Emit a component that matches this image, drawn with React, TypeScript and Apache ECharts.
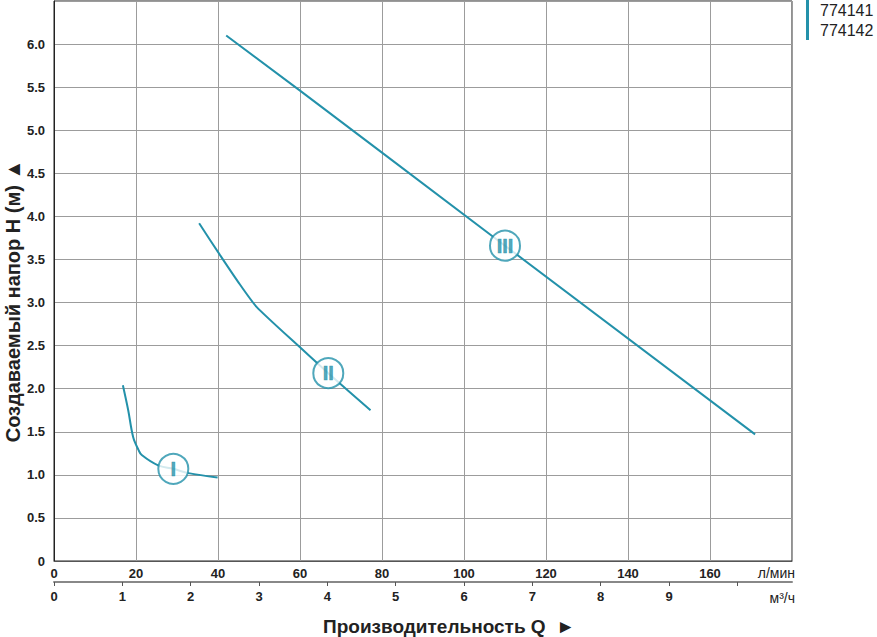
import React, { useEffect, useRef } from "react";
import * as echarts from "echarts";

// Flow (l/min) and head (m)
const curveIQ = [16.8, 18.1, 19.3, 20.6, 21.4, 25.4, 29.1, 32.8, 39.9];
const curveIH = [2.04, 1.75, 1.44, 1.29, 1.23, 1.11, 1.07, 1.02, 0.97];
const curveIIQ = [35.4, 40.5, 44.9, 49.4, 60, 66.9, 77.2];
const curveIIH = [3.92, 3.55, 3.24, 2.95, 2.48, 2.18, 1.75];
const curveIIIQ = [42, 60, 80, 110, 171];
const curveIIIH = [6.1, 5.46, 4.74, 3.66, 1.47];

const markerNames = ["I", "II", "III"];
const markerQ = [29.1, 66.9, 110];
const markerH = [1.07, 2.18, 3.66];

const legendNames = ["774141", "774142"];

const LPM_MAX = 180;
const M3H_MAX = LPM_MAX / (1000 / 60);

const TEAL = "#2391aa";
const FONT = '"Liberation Sans", Arial, Helvetica, sans-serif';

const pairs = (xs: number[], ys: number[]) => xs.map((x, i) => [x, ys[i]]);

export default function App() {
  const ref = useRef<HTMLDivElement>(null);

  useEffect(() => {
    if (!ref.current) return;
    const chart = echarts.init(ref.current, undefined, { renderer: "svg" });

    const lineSeries = (data: number[][], smooth: number) => ({
      type: "line",
      data,
      smooth,
      showSymbol: false,
      symbol: "none",
      lineStyle: { color: TEAL, width: 2 },
      itemStyle: { color: TEAL },
      z: 3,
      silent: true,
    });

    const option: any = {
      animation: false,
      textStyle: { fontFamily: FONT },
      grid: {
        left: 54,
        right: 85,
        top: 1,
        bottom: 76,
        containLabel: false,
        outerBoundsMode: "none",
        show: true,
        borderColor: "#222",
        borderWidth: 1,
        backgroundColor: "transparent",
      },
      legend: {
        data: legendNames,
        orient: "vertical",
        left: 806,
        top: 0,
        padding: 0,
        itemGap: 0,
        itemWidth: 3,
        itemHeight: 20,
        icon: "rect",
        selectedMode: false,
        textStyle: {
          fontFamily: FONT,
          fontSize: 16,
          color: "#222",
          padding: [2, 0, 0, 6],
        },
      },
      xAxis: [
        {
          type: "value",
          min: 0,
          max: LPM_MAX,
          interval: 20,
          position: "bottom",
          axisLine: { show: true, lineStyle: { color: "#555", width: 1 } },
          axisTick: { show: false },
          splitLine: { show: true, lineStyle: { color: "#9c9c9c", width: 1 } },
          axisLabel: {
            margin: 6,
            fontFamily: FONT,
            fontSize: 13,
            fontWeight: "bold",
            color: "#222",
            formatter: (v: number) => (v >= LPM_MAX ? "" : String(v)),
          },
        },
        {
          type: "value",
          min: 0,
          max: M3H_MAX,
          interval: 1,
          position: "bottom",
          offset: 21,
          axisLine: { show: true, lineStyle: { color: "#888", width: 2 } },
          axisTick: { show: true, length: 4, lineStyle: { color: "#555", width: 1 } },
          splitLine: { show: false },
          axisLabel: {
            margin: 8,
            fontFamily: FONT,
            fontSize: 13,
            fontWeight: "bold",
            color: "#222",
            showMaxLabel: false,
            formatter: (v: number) => (v > 9.5 ? "" : String(v)),
          },
        },
      ],
      yAxis: {
        type: "value",
        min: 0,
        max: 6.5,
        interval: 0.5,
        axisLine: { show: true, lineStyle: { color: "#222", width: 1 } },
        axisTick: { show: false },
        splitLine: { show: true, lineStyle: { color: "#9c9c9c", width: 1 } },
        axisLabel: {
          margin: 9,
          fontFamily: FONT,
          fontSize: 13,
          fontWeight: "bold",
          color: "#222",
          formatter: (v: number) => (v === 0 ? "0" : v > 6.25 ? "" : v.toFixed(1)),
        },
      },
      graphic: [
        {
          type: "text",
          x: 13,
          y: 301,
          rotation: Math.PI / 2,
          style: {
            text: "Создаваемый напор H (м) ▲",
            fontFamily: FONT,
            fontSize: 20,
            fontWeight: "bold",
            fill: "#222",
            align: "center",
            verticalAlign: "middle",
          },
        },
        {
          type: "text",
          x: 795,
          y: 573,
          style: {
            text: "л/мин",
            fontFamily: FONT,
            fontSize: 14,
            fill: "#222",
            align: "right",
            verticalAlign: "middle",
          },
        },
        {
          type: "text",
          x: 795,
          y: 598,
          style: {
            text: "м³/ч",
            fontFamily: FONT,
            fontSize: 14,
            fill: "#222",
            align: "right",
            verticalAlign: "middle",
          },
        },
        {
          type: "text",
          x: 449,
          y: 626,
          style: {
            text: "Производительность Q  ►",
            fontFamily: FONT,
            fontSize: 19,
            fontWeight: "bold",
            fill: "#222",
            align: "center",
            verticalAlign: "middle",
          },
        },
      ],
      series: [
        { ...lineSeries(pairs(curveIQ, curveIH), 0.35), name: "I" },
        { ...lineSeries(pairs(curveIIQ, curveIIH), 0.2), name: "II" },
        { ...lineSeries(pairs(curveIIIQ, curveIIIH), 0), name: "III" },
        {
          type: "scatter",
          name: "markers",
          symbol: "circle",
          symbolSize: 30,
          z: 5,
          silent: true,
          itemStyle: { color: "#fff", borderColor: TEAL, borderWidth: 2 },
          label: {
            show: true,
            position: "inside",
            formatter: (p: any) => p.name,
            color: TEAL,
            fontFamily: FONT,
            fontSize: 20,
            fontWeight: "bold",
            textBorderColor: TEAL,
            textBorderWidth: 0.6,
          },
          data: markerNames.map((n, i) => ({ name: n, value: [markerQ[i], markerH[i]] })),
        },
        ...legendNames.map((n) => ({
          type: "line",
          name: n,
          data: [],
          itemStyle: { color: TEAL },
          lineStyle: { color: TEAL },
        })),
      ],
    };

    chart.setOption(option);
    return () => chart.dispose();
  }, []);

  return (
    <div
      ref={ref}
      style={{ position: "absolute", left: 0, top: 0, width: 877, height: 637 }}
    />
  );
}
